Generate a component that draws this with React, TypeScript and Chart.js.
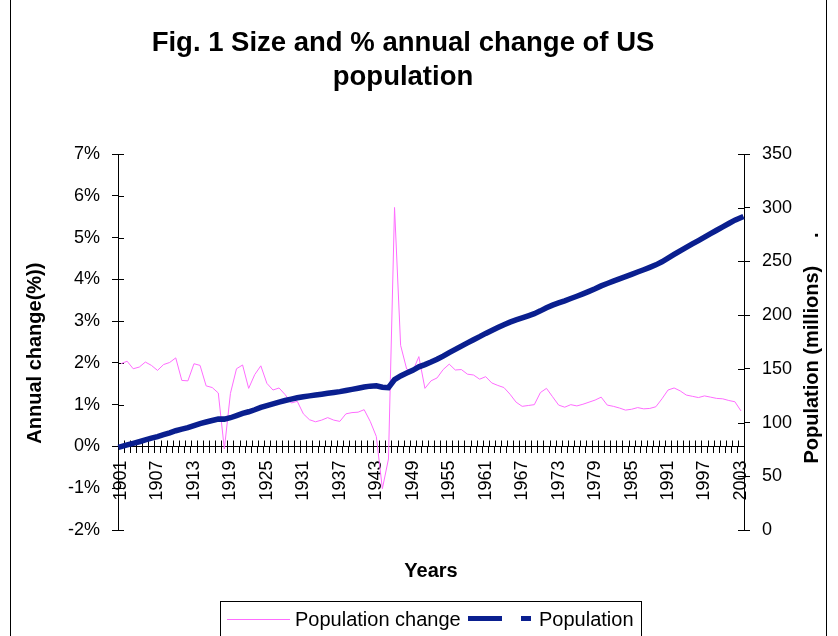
import React, { useEffect, useRef } from 'react';
import { Chart, registerables } from 'chart.js';

Chart.register(...registerables);

const FONT = 'Liberation Sans, Arial, Helvetica, sans-serif';

const years = [
  '1901','1902','1903','1904','1905','1906','1907','1908','1909','1910',
  '1911','1912','1913','1914','1915','1916','1917','1918','1919','1920',
  '1921','1922','1923','1924','1925','1926','1927','1928','1929','1930',
  '1931','1932','1933','1934','1935','1936','1937','1938','1939','1940',
  '1941','1942','1943','1944','1945','1946','1947','1948','1949','1950',
  '1951','1952','1953','1954','1955','1956','1957','1958','1959','1960',
  '1961','1962','1963','1964','1965','1966','1967','1968','1969','1970',
  '1971','1972','1973','1974','1975','1976','1977','1978','1979','1980',
  '1981','1982','1983','1984','1985','1986','1987','1988','1989','1990',
  '1991','1992','1993','1994','1995','1996','1997','1998','1999','2000',
  '2001','2002','2003',
];

// Annual change, percent
const populationChange = [
  1.98, 2.04, 1.86, 1.90, 2.02, 1.94, 1.82, 1.96, 2.01, 2.12,
  1.58, 1.57, 1.98, 1.94, 1.45, 1.41, 1.28, -0.06, 1.27, 1.86,
  1.95, 1.39, 1.72, 1.93, 1.51, 1.35, 1.40, 1.24, 1.04, 1.08,
  0.78, 0.64, 0.59, 0.63, 0.69, 0.63, 0.60, 0.78, 0.81, 0.82,
  0.88, 0.60, 0.24, -1.01, -0.30, 5.72, 2.42, 1.85, 1.80, 2.15,
  1.39, 1.57, 1.64, 1.84, 1.97, 1.83, 1.84, 1.73, 1.71, 1.61,
  1.67, 1.52, 1.46, 1.41, 1.25, 1.06, 0.96, 0.98, 1.00, 1.29,
  1.39, 1.19, 0.99, 0.94, 1.00, 0.97, 1.01, 1.06, 1.11, 1.18,
  0.99, 0.96, 0.92, 0.87, 0.89, 0.93, 0.90, 0.91, 0.95, 1.14,
  1.35, 1.40, 1.33, 1.23, 1.20, 1.17, 1.21, 1.18, 1.15, 1.14,
  1.10, 1.07, 0.85,
];

// Population, millions
const population = [
  77.58, 79.16, 80.63, 82.17, 83.82, 85.45, 87.01, 88.71, 90.49, 92.41,
  93.86, 95.34, 97.23, 99.11, 100.55, 101.96, 103.27, 103.21, 104.51, 106.46,
  108.54, 110.05, 111.95, 114.11, 115.83, 117.40, 119.04, 120.51, 121.77, 123.08,
  124.04, 124.84, 125.58, 126.37, 127.25, 128.05, 128.83, 129.83, 130.88, 131.95,
  133.12, 133.92, 134.25, 132.89, 132.48, 140.05, 143.45, 146.09, 148.67, 151.87,
  153.98, 156.39, 158.96, 161.88, 165.07, 168.09, 171.19, 174.15, 177.14, 179.98,
  182.99, 185.77, 188.48, 191.14, 193.53, 195.58, 197.46, 199.40, 201.39, 203.98,
  206.83, 209.28, 211.36, 213.34, 215.47, 217.56, 219.76, 222.10, 224.57, 227.23,
  229.47, 231.66, 233.79, 235.83, 237.92, 240.13, 242.29, 244.50, 246.82, 249.62,
  252.98, 256.51, 259.92, 263.13, 266.28, 269.39, 272.65, 275.85, 279.04, 282.22,
  285.30, 288.40, 290.80,
];

const titleLines = ['Fig. 1 Size and % annual change of US', 'population'];
const leftAxisTitle = 'Annual change(%))    ';
const rightAxisTitle = 'Population (millions)     .';
const xAxisTitle = 'Years';
const legendLabels = ['Population change', 'Population'];
const labelEvery = 6;

const PINK = '#ff6cff';
const NAVY = '#0a1f8f';

const decorPlugin = {
  id: 'decor',
  beforeDatasetsDraw(chart: any) {
    const { ctx, chartArea, scales } = chart;
    const tl = 6;
    ctx.save();
    ctx.strokeStyle = '#000';
    ctx.lineWidth = 1;
    ctx.beginPath();
    // inner halves of cross tick marks
    scales.y.ticks.forEach((t: any) => {
      const py = Math.round(scales.y.getPixelForValue(t.value)) + 0.5;
      ctx.moveTo(chartArea.left, py);
      ctx.lineTo(chartArea.left + tl, py);
    });
    scales.y1.ticks.forEach((t: any) => {
      const py = Math.round(scales.y1.getPixelForValue(t.value)) + 0.5;
      ctx.moveTo(chartArea.right - tl, py);
      ctx.lineTo(chartArea.right, py);
    });
    const x = scales.x;
    const y0 = Math.round(scales.y.getPixelForValue(0)) + 0.5;
    const half = (x.getPixelForValue(1) - x.getPixelForValue(0)) / 2;
    for (let i = 0; i <= years.length; i++) {
      const px = Math.round(x.getPixelForValue(i) - half) + 0.5;
      ctx.moveTo(px, y0 - tl);
      ctx.lineTo(px, y0);
    }
    ctx.stroke();
    ctx.restore();
  },
  afterDraw(chart: any) {
    const { ctx } = chart;
    ctx.save();
    // chart frame
    ctx.strokeStyle = '#000';
    ctx.lineWidth = 1;
    ctx.beginPath();
    ctx.moveTo(10.5, 0);
    ctx.lineTo(10.5, 636);
    ctx.moveTo(826.5, 0);
    ctx.lineTo(826.5, 636);
    ctx.stroke();

    // right axis title (reads bottom to top)
    ctx.save();
    ctx.translate(812, 348);
    ctx.rotate(-Math.PI / 2);
    ctx.font = `bold 20px ${FONT}`;
    ctx.fillStyle = '#000';
    ctx.textAlign = 'center';
    ctx.textBaseline = 'middle';
    ctx.fillText(rightAxisTitle, 0, 0);
    ctx.restore();

    // legend
    ctx.strokeStyle = '#000';
    ctx.lineWidth = 1;
    ctx.strokeRect(220.5, 601.5, 421, 60);
    ctx.strokeStyle = PINK;
    ctx.lineWidth = 1;
    ctx.beginPath();
    ctx.moveTo(227, 619.5);
    ctx.lineTo(290, 619.5);
    ctx.stroke();
    ctx.strokeStyle = NAVY;
    ctx.lineWidth = 5;
    ctx.setLineDash([34, 19]);
    ctx.beginPath();
    ctx.moveTo(468, 618.5);
    ctx.lineTo(531, 618.5);
    ctx.stroke();
    ctx.setLineDash([]);
    ctx.fillStyle = '#000';
    ctx.font = `20px ${FONT}`;
    ctx.textAlign = 'left';
    ctx.textBaseline = 'alphabetic';
    ctx.fillText(legendLabels[0], 295, 626);
    ctx.fillText(legendLabels[1], 539, 626);
    ctx.restore();
  },
};

export default function App() {
  const ref = useRef<HTMLCanvasElement | null>(null);

  useEffect(() => {
    if (!ref.current) return;
    const chart = new Chart(ref.current, {
      type: 'line',
      data: {
        labels: years,
        datasets: [
          {
            label: legendLabels[0],
            data: populationChange,
            yAxisID: 'y',
            borderColor: PINK,
            backgroundColor: PINK,
            borderWidth: 1,
            pointRadius: 0,
            tension: 0,
            order: 2,
          },
          {
            label: legendLabels[1],
            data: population,
            yAxisID: 'y1',
            borderColor: NAVY,
            backgroundColor: NAVY,
            borderWidth: 5.5,
            borderCapStyle: 'square',
            pointRadius: 0,
            tension: 0,
            order: 1,
          },
        ],
      },
      options: {
        responsive: false,
        animation: false,
        events: [],
        layout: { padding: { left: 10, right: 42, top: 0, bottom: 106 } },
        plugins: {
          legend: { display: false },
          tooltip: { enabled: false },
          title: {
            display: true,
            text: titleLines,
            color: '#000',
            font: { family: FONT, size: 27.5, weight: 'bold', lineHeight: 1.22 },
            padding: { top: 27, bottom: 59.9 },
          },
        },
        scales: {
          x: {
            type: 'category',
            position: { y: 0 } as any,
            offset: true,
            grid: {
              display: true,
              offset: true,
              drawOnChartArea: false,
              drawTicks: true,
              tickLength: 6,
              color: '#000',
              lineWidth: 1,
            },
            border: { display: true, color: '#000', width: 1 },
            ticks: {
              autoSkip: false,
              minRotation: 90,
              maxRotation: 90,
              padding: 8,
              color: '#000',
              font: { family: FONT, size: 18 },
              callback: function (this: any, value: any, index: number) {
                return index % labelEvery === 0 ? this.getLabelForValue(value) : '';
              },
            },
            title: {
              display: true,
              text: xAxisTitle,
              color: '#000',
              font: { family: FONT, size: 20, weight: 'bold', lineHeight: 1.2 },
              padding: { top: 51, bottom: 0 },
            },
          },
          y: {
            type: 'linear',
            position: 'left',
            min: -2,
            max: 7,
            grid: {
              display: true,
              drawOnChartArea: false,
              drawTicks: true,
              tickLength: 6,
              color: '#000',
            },
            border: { display: true, color: '#000', width: 1 },
            ticks: {
              stepSize: 1,
              padding: 12,
              color: '#000',
              font: { family: FONT, size: 18 },
              callback: (v: any) => `${v}%`,
            },
            title: {
              display: true,
              text: leftAxisTitle,
              color: '#000',
              font: { family: FONT, size: 20, weight: 'bold', lineHeight: 1.2 },
              padding: { top: 13, bottom: 0 },
            },
            afterFit: (scale: any) => {
              scale.width = 108;
            },
          },
          y1: {
            type: 'linear',
            position: 'right',
            min: 0,
            max: 350,
            grid: {
              display: true,
              drawOnChartArea: false,
              drawTicks: true,
              tickLength: 6,
              color: '#000',
            },
            border: { display: true, color: '#000', width: 1 },
            ticks: {
              stepSize: 50,
              padding: 12,
              color: '#000',
              font: { family: FONT, size: 18 },
            },
            afterFit: (scale: any) => {
              scale.width = 52;
            },
          },
        },
      } as any,
      plugins: [decorPlugin],
    });
    return () => chart.destroy();
  }, []);

  return (
    <div style={{ position: 'fixed', left: 0, top: 0, width: 838, height: 636, background: '#fff' }}>
      <canvas ref={ref} width={838} height={636} style={{ width: 838, height: 636, display: 'block' }} />
    </div>
  );
}
